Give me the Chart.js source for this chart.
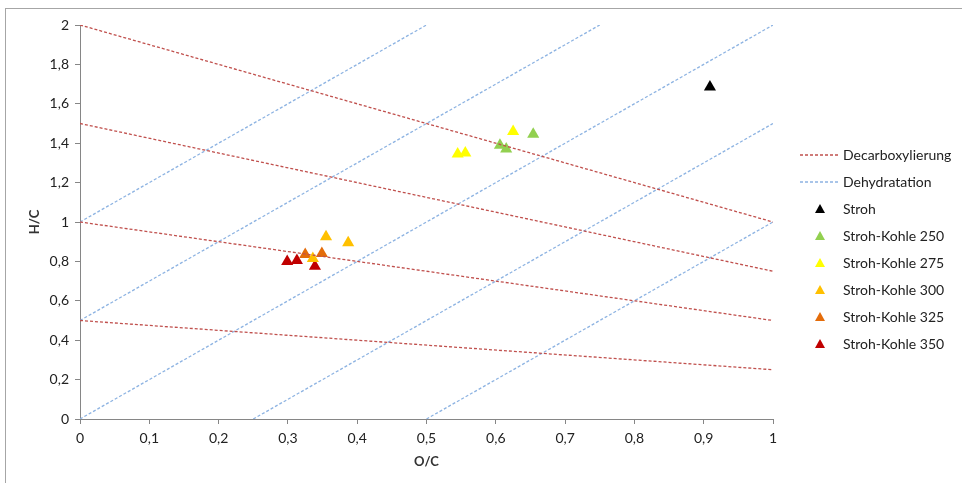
<!DOCTYPE html>
<html>
<head>
<meta charset="utf-8">
<script src="https://cdn.jsdelivr.net/npm/chart.js@4.4.1/dist/chart.umd.min.js"></script>
<style>
  html, body { margin: 0; padding: 0; background: #fff; }
  #wrap { position: relative; width: 962px; height: 483px; }
  #frame { position: absolute; left: 5px; top: 8px; width: 960px; height: 480px; border: 1px solid #a6a6a6; box-sizing: border-box; pointer-events: none; }
</style>
</head>
<body>
<div id="wrap">
  <canvas id="vk" width="962" height="483"></canvas>
  <div id="frame"></div>
</div>
<script>
// guide lines, endpoints [x0, y0, x1, y1]
var decarbLines = [[0, 2, 1, 1], [0, 1.5, 1, 0.75], [0, 1, 1, 0.5], [0, 0.5, 1, 0.25]];
var dehydLines = [[0, 1, 0.5, 2], [0, 0.5, 0.75, 2], [0, 0, 1, 2], [0.25, 0, 1, 1.5], [0.5, 0, 1, 1]];

// samples (O/C, H/C)
var stroh = [[0.909, 1.685]];
var kohle250 = [[0.606, 1.39], [0.615, 1.37], [0.654, 1.445]];
var kohle275 = [[0.545, 1.345], [0.556, 1.35], [0.625, 1.46]];
var kohle300 = [[0.355, 0.925], [0.387, 0.895], [0.336, 0.815]];
var kohle325 = [[0.325, 0.835], [0.349, 0.84]];
var kohle350 = [[0.299, 0.80], [0.313, 0.805], [0.339, 0.775]];

var xTickLabels = ['0', '0,1', '0,2', '0,3', '0,4', '0,5', '0,6', '0,7', '0,8', '0,9', '1'];
var yTickLabels = ['0', '0,2', '0,4', '0,6', '0,8', '1', '1,2', '1,4', '1,6', '1,8', '2'];

var FONT = 'Lato, "Open Sans", sans-serif';

function pts(arr) {
  return arr.map(function(p) { return {x: p[0], y: p[1]}; });
}

var datasets = [];

decarbLines.forEach(function(l, i) {
  datasets.push({
    label: 'Decarboxylierung', legend: i == 0,
    data: [{x: l[0], y: l[1]}, {x: l[2], y: l[3]}],
    showLine: true, borderColor: '#c0504d', borderWidth: 1.3, borderDash: [3, 2],
    pointRadius: 0, fill: false
  });
});
dehydLines.forEach(function(l, i) {
  datasets.push({
    label: 'Dehydratation', legend: i == 0,
    data: [{x: l[0], y: l[1]}, {x: l[2], y: l[3]}],
    showLine: true, borderColor: '#8db3e2', borderWidth: 1.3, borderDash: [3, 2],
    pointRadius: 0, fill: false
  });
});

var series = [
  ['Stroh', stroh, '#000000'],
  ['Stroh-Kohle 250', kohle250, '#92d050'],
  ['Stroh-Kohle 275', kohle275, '#ffff00'],
  ['Stroh-Kohle 300', kohle300, '#ffc000'],
  ['Stroh-Kohle 325', kohle325, '#e46c0a'],
  ['Stroh-Kohle 350', kohle350, '#c00000']
];
series.forEach(function(s) {
  datasets.push({
    label: s[0], legend: true, marker: true,
    data: pts(s[1]),
    pointStyle: 'triangle', pointRadius: 7, pointHoverRadius: 7,
    backgroundColor: s[2], borderColor: s[2], borderWidth: 0
  });
});

// legend drawn by hand, to the right of the plot
var sideLegend = {
  id: 'sideLegend',
  afterDraw: function(chart) {
    var ctx = chart.ctx;
    var x = 800, y = 155, step = 27;
    ctx.save();
    ctx.font = '14px ' + FONT;
    ctx.textBaseline = 'middle';
    chart.data.datasets.forEach(function(ds) {
      if (!ds.legend) return;
      if (ds.marker) {
        ctx.fillStyle = ds.backgroundColor;
        ctx.beginPath();
        ctx.moveTo(x + 20, y - 5);
        ctx.lineTo(x + 25, y + 4);
        ctx.lineTo(x + 15, y + 4);
        ctx.closePath();
        ctx.fill();
      } else {
        ctx.strokeStyle = ds.borderColor;
        ctx.lineWidth = 1.3;
        ctx.setLineDash([3, 2]);
        ctx.beginPath();
        ctx.moveTo(x, y);
        ctx.lineTo(x + 39, y);
        ctx.stroke();
        ctx.setLineDash([]);
      }
      ctx.fillStyle = '#222';
      ctx.fillText(ds.label, x + 43, y);
      y += step;
    });
    ctx.restore();
  }
};

var ctx = document.getElementById('vk');
var chart = new Chart(ctx, {
  type: 'scatter',
  data: {datasets: datasets},
  options: {
    responsive: false,
    animation: false,
    layout: {padding: {left: 27, top: 25, right: 189, bottom: 13}},
    plugins: {legend: {display: false}, tooltip: {enabled: false}},
    scales: {
      x: {
        min: 0, max: 1,
        ticks: {
          stepSize: 0.1, color: '#222', padding: 6,
          font: {family: FONT, size: 14},
          callback: function(v, i) { return xTickLabels[i]; }
        },
        grid: {drawOnChartArea: false, color: '#868686', tickLength: 5},
        border: {color: '#868686'},
        title: {display: true, text: 'O/C', color: '#333', font: {family: FONT, size: 13, weight: 'bold'}, padding: {top: 4, bottom: 0}},
        afterFit: function(s) { s.height = 51; }
      },
      y: {
        min: 0, max: 2,
        ticks: {
          stepSize: 0.2, color: '#222', padding: 6,
          font: {family: FONT, size: 14},
          callback: function(v, i) { return yTickLabels[i]; }
        },
        grid: {drawOnChartArea: false, color: '#868686', tickLength: 5},
        border: {color: '#868686'},
        title: {display: true, text: 'H/C', color: '#333', font: {family: FONT, size: 13, weight: 'bold'}, padding: {top: 0, bottom: 0}},
        afterFit: function(s) { s.width = 53; }
      }
    }
  },
  plugins: [sideLegend]
});
</script>
</body>
</html>
